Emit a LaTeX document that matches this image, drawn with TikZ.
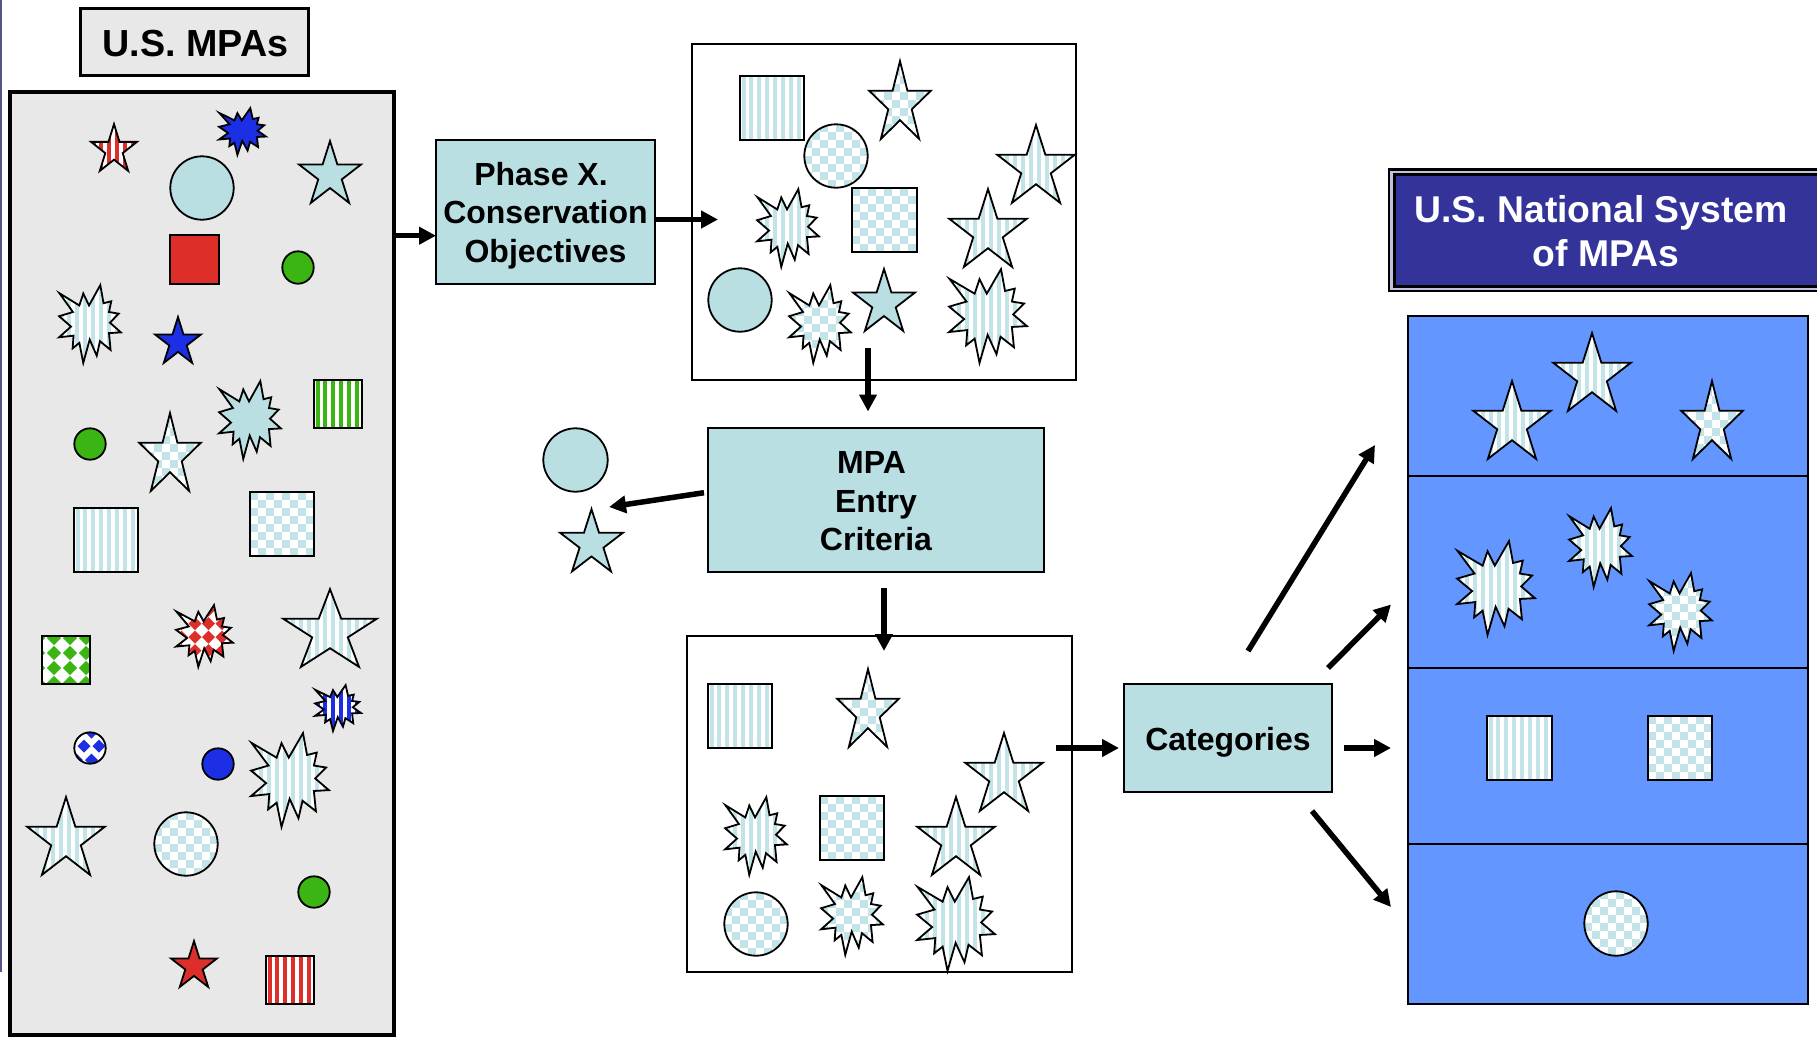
\documentclass[tikz,border=0pt]{standalone}
\usepackage{fontspec}
\setmainfont{Liberation Sans}
\usetikzlibrary{arrows.meta,calc}
\definecolor{mcyan}{HTML}{B9DFE3}
\definecolor{mstripe}{HTML}{C2E3E8}
\definecolor{mred}{HTML}{DD2E2A}
\definecolor{mblue}{HTML}{1C2FE5}
\definecolor{mgreen}{HTML}{3BB514}
\definecolor{mpanel}{HTML}{E8E8E8}
\definecolor{msys}{HTML}{6496FF}
\definecolor{mtitle}{HTML}{333399}
\definecolor{medge}{HTML}{55558A}
\definecolor{mgap}{HTML}{C0C0E0}
\tikzset{
  flow/.style={line width=5.5pt,black,-{Triangle[length=17pt,width=17pt]},shorten >=0pt},
  bx/.style={draw=black,line width=2pt,inner sep=0pt,outer sep=0pt,text=black,
    font=\fontsize{32}{38.5}\bfseries\selectfont},
  cyanbox/.style={bx,fill=mcyan},
  divider/.style={draw=black,line width=2pt},
}
\newcommand\PStar{(0.5,0) -- (0.62,0.38) -- (1,0.38) -- (0.69,0.62) -- (0.81,1) -- (0.5,0.76) -- (0.19,1) -- (0.31,0.62) -- (0,0.38) -- (0.38,0.38) -- cycle}
\newcommand\PBurst{(0.667,0) -- (0.719,0.233) -- (0.844,0.208) -- (0.807,0.346) -- (0.964,0.367) -- (0.823,0.483) -- (1,0.608) -- (0.807,0.617) -- (0.833,0.833) -- (0.661,0.721) -- (0.609,0.908) -- (0.495,0.7) -- (0.391,1) -- (0.328,0.742) -- (0.219,0.813) -- (0.234,0.65) -- (0,0.671) -- (0.193,0.533) -- (0,0.4) -- (0.224,0.346) -- (0.005,0.104) -- (0.328,0.262) -- (0.391,0.108) -- (0.484,0.262) -- cycle}
\newcommand\PSquare{(0,0) -- (1,0) -- (1,1) -- (0,1) -- cycle}
\newcommand\PCirc{(0.5,0.5) circle [radius=0.5]}
\newcommand\IStar{1.1}
\newcommand\IBurst{1.1}
\newcommand\ISquare{0.3}
\newcommand\ICirc{0.3}
\newcommand\PatSolid[1]{\fill[#1] (-1,-1) rectangle (\sw+1,\sh+1);}
\newcommand\PatStripe[1]{\fill[white] (-1,-1) rectangle (\sw+1,\sh+1);
  \foreach \k in {0,...,12}{\fill[#1] ({1.5+7.9*\k},-1) rectangle ({5.5+7.9*\k},\sh+1);}}
\newcommand\PatCheck[1]{\fill[white] (-1,-1) rectangle (\sw+1,\sh+1);
  \foreach \i in {0,...,12}{\foreach \j in {0,...,12}{
    \pgfmathparse{int(mod(\i+\j,2))}
    \ifnum\pgfmathresult=0 \fill[#1] ({8*\i},{8*\j}) rectangle ++(8,8);\fi}}}
\newcommand\setD[6]{\def\dox{#1}\def\doy{#2}\def\dsx{#3}\def\dsy{#4}\def\dst{#5}\def\dh{#6}}
\newcommand\PatDiamond[1]{\fill[white] (-1,-1) rectangle (\sw+1,\sh+1);
  \foreach \i in {-4,...,6}{\foreach \j in {-3,...,5}{
    \fill[#1] ({\dox+\i*\dsx+\j*\dst-\dh},{\doy+\j*\dsy}) -- ++(\dh,-\dh) -- ++(\dh,\dh) -- ++(-\dh,\dh) -- cycle;}}}
\newcommand\Shp[7]{\begin{scope}[shift={(#4,#5)}]
  \pgfmathsetmacro\sw{#6-#4}\pgfmathsetmacro\sh{#7-#5}
  \pgfmathsetmacro\ins{\csname I#1\endcsname}
  \pgfmathsetmacro\psw{\sw-2*\ins}\pgfmathsetmacro\psh{\sh-2*\ins}
  \begin{scope}
    \clip[shift={(\ins,\ins)},xscale=\psw,yscale=\psh] \csname P#1\endcsname;
    \csname Pat#2\endcsname{#3}
  \end{scope}
  \draw[black,line width=1.8pt,shift={(\ins,\ins)},xscale=\psw,yscale=\psh] \csname P#1\endcsname;
\end{scope}}
\begin{document}
\begin{tikzpicture}[x=1pt,y=-1pt]
\useasboundingbox (0,0) rectangle (1817,1036);
\fill[medge] (0,0) rectangle (1.5,972);
% ---- boxes
\node[bx,fill=mpanel,line width=2.4pt,minimum width=228pt,minimum height=67pt,text height=28pt,text depth=0pt,
  font=\fontsize{37.7}{44}\bfseries\selectfont] (usmpas) at (194.5,42) {\hspace*{2pt}U.S. MPAs};
\node[bx,fill=mpanel,line width=3.6pt,minimum width=384pt,minimum height=943pt] (panel) at (202,563.5) {};
\node[bx,fill=white,minimum width=384pt,minimum height=336pt] (topbox) at (884,212) {};
\node[bx,fill=white,minimum width=385pt,minimum height=336pt] (botbox) at (879.5,804) {};
\node[cyanbox,minimum width=219pt,minimum height=144pt,text height=0pt,text depth=54pt] (phase) at (545.5,212)
  {\begin{tabular}[t]{@{}c@{}}Phase X.\hspace*{9pt}\\Conservation\\Objectives\end{tabular}};
\node[cyanbox,minimum width=336pt,minimum height=144pt,text height=0pt,text depth=52.6pt] (mpa) at (876,500)
  {\begin{tabular}[t]{@{}c@{}}MPA\hspace*{9pt}\\Entry\\Criteria\end{tabular}};
\node[cyanbox,minimum width=208pt,minimum height=108pt,text height=25.6pt,text depth=0pt] (cat) at (1228,738) {Categories};
\node[bx,fill=msys,minimum width=400.5pt,minimum height=688pt] (sys) at (1607.75,660) {};
% ---- title of the system
\fill[black] (1387.5,168) rectangle (1830,292);
\fill[mgap] (1390,170.5) rectangle (1830,289.5);
\node[bx,fill=mtitle,line width=3pt,text=white,minimum width=431pt,minimum height=112pt,text height=0pt,text depth=16pt,
  font=\fontsize{37.3}{44}\bfseries\selectfont] (title) at (1609.5,230)
  {\begin{tabular}[t]{@{}c@{}}U.S. National System\hspace*{17pt}\\of MPAs\hspace*{7pt}\end{tabular}};
% ---- dividers
\coordinate (d1) at (1500,476);
\coordinate (d2) at (1500,668);
\coordinate (d3) at (1500,843.5);
\draw[divider] (sys.west |- d1) -- (sys.east |- d1);
\draw[divider] (sys.west |- d2) -- (sys.east |- d2);
\draw[divider] (sys.west |- d3) -- (sys.east |- d3);
% ---- left panel shapes
\Shp{Star}{Stripe}{mred}{90}{123}{138}{172}
\Shp{Burst}{Solid}{mblue}{218}{107}{267}{156}
\Shp{Circ}{Solid}{mcyan}{170}{156}{234}{220}
\Shp{Star}{Solid}{mcyan}{298}{140}{362}{204}
\Shp{Square}{Solid}{mred}{170}{235}{219}{284}
\Shp{Circ}{Solid}{mgreen}{282}{251}{314}{284}
\Shp{Burst}{Stripe}{mstripe}{58}{284}{122}{364}
\Shp{Star}{Solid}{mblue}{154}{316}{202}{364}
\Shp{Burst}{Solid}{mcyan}{218}{380}{282}{460}
\Shp{Square}{Stripe}{mgreen}{314}{380}{362}{428}
\Shp{Circ}{Solid}{mgreen}{74}{428}{106}{460}
\Shp{Star}{Check}{mstripe}{138}{412}{202}{492}
\Shp{Square}{Stripe}{mstripe}{74}{508}{138}{572}
\Shp{Square}{Check}{mstripe}{250}{492}{314}{556}
\Shp{Star}{Stripe}{mstripe}{282}{588}{378}{668}
\setD{20}{33}{13.5}{13.5}{0}{6.5}
\Shp{Burst}{Diamond}{mred}{175}{604}{234}{668}
\setD{12}{2}{16}{15}{0}{7.2}
\Shp{Square}{Diamond}{mgreen}{42}{636}{90}{684}
\Shp{Burst}{Stripe}{mblue}{314}{684}{362}{732}
\setD{10}{14}{15}{14}{7.5}{6.5}
\Shp{Circ}{Diamond}{mblue}{74}{732}{106}{764}
\Shp{Circ}{Solid}{mblue}{202}{748}{234}{780}
\Shp{Burst}{Stripe}{mstripe}{250}{732}{330}{828}
\Shp{Star}{Stripe}{mstripe}{26}{796}{106}{876}
\Shp{Circ}{Check}{mstripe}{154}{812}{218}{876}
\Shp{Circ}{Solid}{mgreen}{298}{876}{330}{908}
\Shp{Star}{Solid}{mred}{170}{940}{218}{988}
\Shp{Square}{Stripe}{mred}{266}{956}{314}{1004}
% ---- top box shapes
\Shp{Square}{Stripe}{mstripe}{740}{76}{804}{140}
\Shp{Star}{Check}{mstripe}{868}{60}{932}{140}
\Shp{Circ}{Check}{mstripe}{804}{124}{868}{188}
\Shp{Star}{Stripe}{mstripe}{996}{124}{1076}{204}
\Shp{Burst}{Stripe}{mstripe}{756}{188}{820}{268}
\Shp{Square}{Check}{mstripe}{852}{188}{917}{252}
\Shp{Star}{Stripe}{mstripe}{948}{188}{1028}{268}
\Shp{Circ}{Solid}{mcyan}{708}{268}{772}{332}
\Shp{Burst}{Check}{mstripe}{788}{284}{852}{364}
\Shp{Star}{Solid}{mcyan}{852}{268}{916}{332}
\Shp{Burst}{Stripe}{mstripe}{948}{268}{1028}{364}
% ---- rejected shapes
\Shp{Circ}{Solid}{mcyan}{543}{428}{608}{492}
\Shp{Star}{Solid}{mcyan}{559}{508}{624}{572.5}
% ---- bottom box shapes
\Shp{Square}{Stripe}{mstripe}{708}{684}{772}{748}
\Shp{Star}{Check}{mstripe}{836}{668}{900}{748}
\Shp{Star}{Stripe}{mstripe}{964}{732}{1044}{812}
\Shp{Burst}{Stripe}{mstripe}{724}{796}{788}{876}
\Shp{Square}{Check}{mstripe}{820}{796}{884}{860}
\Shp{Star}{Stripe}{mstripe}{916}{796}{996}{876}
\Shp{Circ}{Check}{mstripe}{724}{892}{788}{956}
\Shp{Burst}{Check}{mstripe}{820}{876}{884}{956}
\Shp{Burst}{Stripe}{mstripe}{916}{876}{996}{972}
% ---- system shapes
\Shp{Star}{Stripe}{mstripe}{1472}{380}{1552}{460}
\Shp{Star}{Stripe}{mstripe}{1552}{332}{1632}{412}
\Shp{Star}{Check}{mstripe}{1680}{380}{1744}{460}
\Shp{Burst}{Stripe}{mstripe}{1456}{540}{1536}{636}
\Shp{Burst}{Stripe}{mstripe}{1568}{507}{1633}{588}
\Shp{Burst}{Check}{mstripe}{1648}{572}{1713}{652}
\Shp{Square}{Stripe}{mstripe}{1487}{716}{1552}{780}
\Shp{Square}{Check}{mstripe}{1648}{716}{1712}{780}
\Shp{Circ}{Check}{mstripe}{1584}{891}{1648}{956}
% ---- connectors
\coordinate (a1) at (400,235.7);
\coordinate (a2) at (718,219.5);
\coordinate (a3s) at (868,348);
\coordinate (a3e) at (868,411.5);
\coordinate (a4s) at (704,492.7);
\coordinate (a4e) at (609,507);
\coordinate (a5s) at (884,588);
\coordinate (a5e) at (884,651);
\coordinate (a6s) at (1056,748);
\coordinate (a7s) at (1344,748);
\coordinate (a7e) at (1391,748);
\coordinate (a8s) at (1248,651);
\coordinate (a8e) at (1375,445);
\coordinate (a9s) at (1328,668);
\coordinate (a9e) at (1391,604.5);
\coordinate (a10s) at (1312,811);
\coordinate (a10e) at (1391,907);
\draw[flow] (panel.east |- a1) -- (phase.west |- a1);
\draw[flow] (phase.east |- a2) -- (a2);
\draw[flow] (a3s) -- (a3e);
\draw[flow] (a4s) -- (a4e);
\draw[flow] (a5s) -- (a5e);
\draw[flow,shorten >=5pt] (a6s) -- (cat.west |- a6s);
\draw[flow] (a7s) -- (a7e);
\draw[flow] (a8s) -- (a8e);
\draw[flow] (a9s) -- (a9e);
\draw[flow] (a10s) -- (a10e);
\end{tikzpicture}
\end{document}
